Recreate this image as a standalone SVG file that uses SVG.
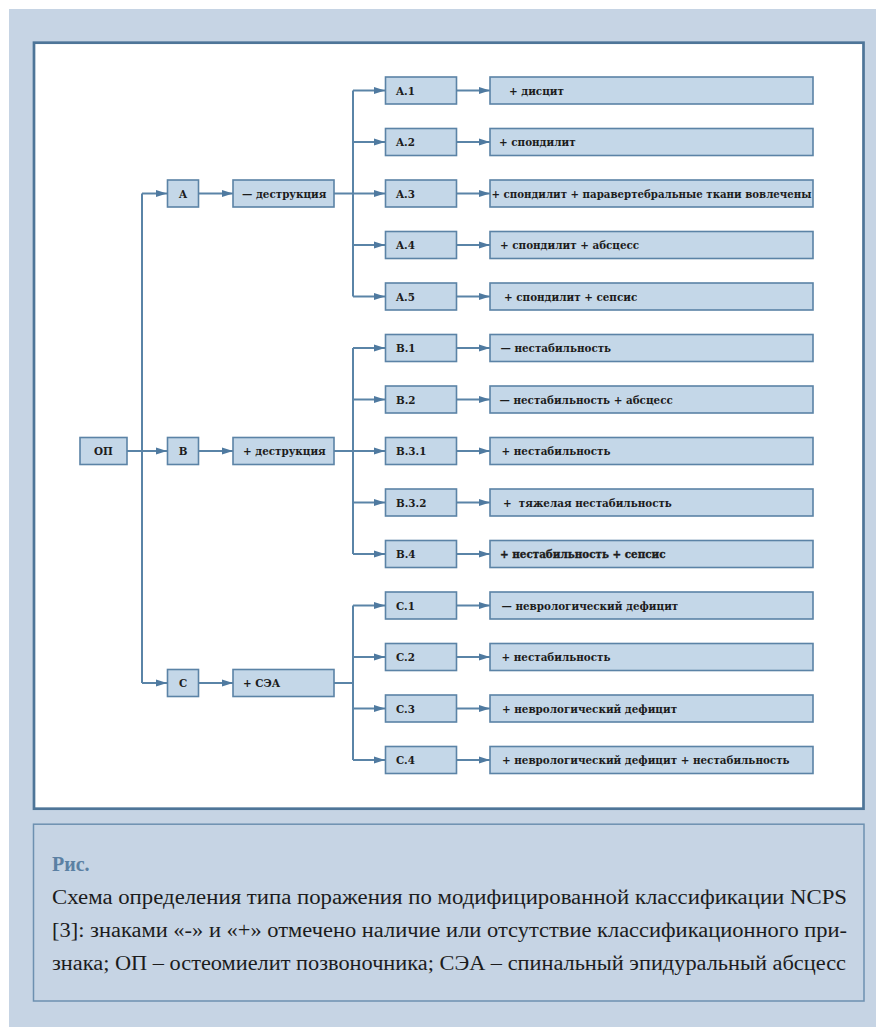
<svg xmlns="http://www.w3.org/2000/svg" width="876" height="1027" viewBox="0 0 876 1027">
<defs>
<marker id="ah" markerUnits="userSpaceOnUse" markerWidth="11" markerHeight="8" refX="11" refY="4" orient="auto">
<path d="M0,0.5 L11,4 L0,7.5 Z" fill="#4f7aa0"/>
</marker>
<style>
.bx{fill:#c4d7e8;stroke:#5b83a6;stroke-width:1.6}
.t{font-family:"DejaVu Serif Condensed","DejaVu Serif","Liberation Serif",serif;font-stretch:condensed;font-weight:bold;font-size:11.5px;fill:#1c1c1c}
.c{text-anchor:middle}
.ln{fill:none;stroke:#5a84a7;stroke-width:2}
.ar{fill:none;stroke:#5a84a7;stroke-width:2;marker-end:url(#ah)}
.cap{font-family:"Liberation Serif","DejaVu Serif",serif;font-size:20px;fill:#1c1c1c}
</style>
</defs>
<rect x="9" y="9" width="867" height="1018" fill="#c6d4e4"/>
<rect x="34" y="42.7" width="829.5" height="766" fill="#ffffff" stroke="#4e7598" stroke-width="2.7"/>
<rect x="33.5" y="824.2" width="830.5" height="176.8" fill="#c6d4e4" stroke="#6d90b0" stroke-width="1.5"/>

<g id="connectors">
<path class="ar" d="M127,451 H167"/>
<path class="ln" d="M142,193.5 V683"/>
<path class="ar" d="M142,193.5 H167"/>
<path class="ar" d="M142,683 H167"/>
<path class="ar" d="M199,193.5 H233"/>
<path class="ar" d="M199,451 H233"/>
<path class="ar" d="M199,683 H233"/>
<path class="ln" d="M334,193.5 H353 M353,90.5 V296.5"/>
<path class="ln" d="M334,451 H353 M353,348 V554"/>
<path class="ln" d="M334,683 H353 M353,605.5 V760"/>
<path class="ar" d="M353,90.5 H385"/>
<path class="ar" d="M353,142 H385"/>
<path class="ar" d="M353,193.5 H385"/>
<path class="ar" d="M353,245 H385"/>
<path class="ar" d="M353,296.5 H385"/>
<path class="ar" d="M353,348 H385"/>
<path class="ar" d="M353,399.5 H385"/>
<path class="ar" d="M353,451 H385"/>
<path class="ar" d="M353,502.5 H385"/>
<path class="ar" d="M353,554 H385"/>
<path class="ar" d="M353,605.5 H385"/>
<path class="ar" d="M353,657 H385"/>
<path class="ar" d="M353,708.5 H385"/>
<path class="ar" d="M353,760 H385"/>
<path class="ar" d="M456.5,90.5 H490"/>
<path class="ar" d="M456.5,142 H490"/>
<path class="ar" d="M456.5,193.5 H490"/>
<path class="ar" d="M456.5,245 H490"/>
<path class="ar" d="M456.5,296.5 H490"/>
<path class="ar" d="M456.5,348 H490"/>
<path class="ar" d="M456.5,399.5 H490"/>
<path class="ar" d="M456.5,451 H490"/>
<path class="ar" d="M456.5,502.5 H490"/>
<path class="ar" d="M456.5,554 H490"/>
<path class="ar" d="M456.5,605.5 H490"/>
<path class="ar" d="M456.5,657 H490"/>
<path class="ar" d="M456.5,708.5 H490"/>
<path class="ar" d="M456.5,760 H490"/>
</g>

<g id="n-op"><rect class="bx" x="80" y="437.5" width="47" height="27"/><text class="t c" x="103.5" y="455">ОП</text></g>

<g id="n-a"><rect class="bx" x="167.5" y="180" width="31" height="27"/><text class="t c" x="183" y="197.5">A</text></g>
<g id="n-b"><rect class="bx" x="167.5" y="437.5" width="31" height="27"/><text class="t c" x="183" y="455">B</text></g>
<g id="n-c"><rect class="bx" x="167.5" y="669.5" width="31" height="27"/><text class="t c" x="183" y="687">C</text></g>

<g id="n-a-d"><rect class="bx" x="233" y="180" width="101" height="27"/><text class="t" x="242" y="197.5">— деструкция</text></g>
<g id="n-b-d"><rect class="bx" x="233" y="437.5" width="101" height="27"/><text class="t" x="243" y="455">+ деструкция</text></g>
<g id="n-c-s"><rect class="bx" x="233" y="669.5" width="101" height="27"/><text class="t" x="243" y="687">+ СЭА</text></g>

<g id="n-a1"><rect class="bx" x="385.5" y="77" width="71" height="27"/><text class="t" x="396" y="94.5">A.1</text></g>
<g id="n-a2"><rect class="bx" x="385.5" y="128.5" width="71" height="27"/><text class="t" x="396" y="146">A.2</text></g>
<g id="n-a3"><rect class="bx" x="385.5" y="180" width="71" height="27"/><text class="t" x="396" y="197.5">A.3</text></g>
<g id="n-a4"><rect class="bx" x="385.5" y="231.5" width="71" height="27"/><text class="t" x="396" y="249">A.4</text></g>
<g id="n-a5"><rect class="bx" x="385.5" y="283" width="71" height="27"/><text class="t" x="396" y="300.5">A.5</text></g>
<g id="n-b1"><rect class="bx" x="385.5" y="334.5" width="71" height="27"/><text class="t" x="396" y="352">B.1</text></g>
<g id="n-b2"><rect class="bx" x="385.5" y="386" width="71" height="27"/><text class="t" x="396" y="403.5">B.2</text></g>
<g id="n-b31"><rect class="bx" x="385.5" y="437.5" width="71" height="27"/><text class="t" x="396" y="455">B.3.1</text></g>
<g id="n-b32"><rect class="bx" x="385.5" y="489" width="71" height="27"/><text class="t" x="396" y="506.5">B.3.2</text></g>
<g id="n-b4"><rect class="bx" x="385.5" y="540.5" width="71" height="27"/><text class="t" x="396" y="558">B.4</text></g>
<g id="n-c1"><rect class="bx" x="385.5" y="592" width="71" height="27"/><text class="t" x="396" y="609.5">C.1</text></g>
<g id="n-c2"><rect class="bx" x="385.5" y="643.5" width="71" height="27"/><text class="t" x="396" y="661">C.2</text></g>
<g id="n-c3"><rect class="bx" x="385.5" y="695" width="71" height="27"/><text class="t" x="396" y="712.5">C.3</text></g>
<g id="n-c4"><rect class="bx" x="385.5" y="746.5" width="71" height="27"/><text class="t" x="396" y="764">C.4</text></g>

<g id="r-a1"><rect class="bx" x="490" y="77" width="323" height="27"/><text class="t" x="509" y="94.5">+ дисцит</text></g>
<g id="r-a2"><rect class="bx" x="490" y="128.5" width="323" height="27"/><text class="t" x="499" y="146">+ спондилит</text></g>
<g id="r-a3"><rect class="bx" x="490" y="180" width="323" height="27"/><text class="t" x="491.5" y="197.5" textLength="320" lengthAdjust="spacingAndGlyphs">+ спондилит + паравертебральные ткани вовлечены</text></g>
<g id="r-a4"><rect class="bx" x="490" y="231.5" width="323" height="27"/><text class="t" x="500" y="249">+ спондилит + абсцесс</text></g>
<g id="r-a5"><rect class="bx" x="490" y="283" width="323" height="27"/><text class="t" x="504" y="300.5">+ спондилит + сепсис</text></g>
<g id="r-b1"><rect class="bx" x="490" y="334.5" width="323" height="27"/><text class="t" x="500.5" y="352">— нестабильность</text></g>
<g id="r-b2"><rect class="bx" x="490" y="386" width="323" height="27"/><text class="t" x="499.5" y="403.5">— нестабильность + абсцесс</text></g>
<g id="r-b31"><rect class="bx" x="490" y="437.5" width="323" height="27"/><text class="t" x="501.5" y="455">+ нестабильность</text></g>
<g id="r-b32"><rect class="bx" x="490" y="489" width="323" height="27"/><text class="t" x="503" y="506.5" xml:space="preserve">+  тяжелая нестабильность</text></g>
<g id="r-b4"><rect class="bx" x="490" y="540.5" width="323" height="27"/><text class="t" x="500" y="558" stroke="#1c1c1c" stroke-width="0.35">+ нестабильность + сепсис</text></g>
<g id="r-c1"><rect class="bx" x="490" y="592" width="323" height="27"/><text class="t" x="501.5" y="609.5">— неврологический дефицит</text></g>
<g id="r-c2"><rect class="bx" x="490" y="643.5" width="323" height="27"/><text class="t" x="501.5" y="661">+ нестабильность</text></g>
<g id="r-c3"><rect class="bx" x="490" y="695" width="323" height="27"/><text class="t" x="502" y="712.5">+ неврологический дефицит</text></g>
<g id="r-c4"><rect class="bx" x="490" y="746.5" width="323" height="27"/><text class="t" x="502" y="764">+ неврологический дефицит + нестабильность</text></g>

<g id="caption">
<text x="52" y="871" font-family="Liberation Serif, serif" font-weight="bold" font-size="20px" fill="#5b80a3">Рис.</text>
<text class="cap" x="52" y="904" textLength="795" lengthAdjust="spacingAndGlyphs">Схема определения типа поражения по модифицированной классификации NCPS</text>
<text class="cap" x="52" y="937" textLength="795" lengthAdjust="spacingAndGlyphs">[3]: знаками «-» и «+» отмечено наличие или отсутствие классификационного при-</text>
<text class="cap" x="52" y="970" textLength="794" lengthAdjust="spacingAndGlyphs">знака; ОП – остеомиелит позвоночника; СЭА – спинальный эпидуральный абсцесс</text>
</g>
</svg>
